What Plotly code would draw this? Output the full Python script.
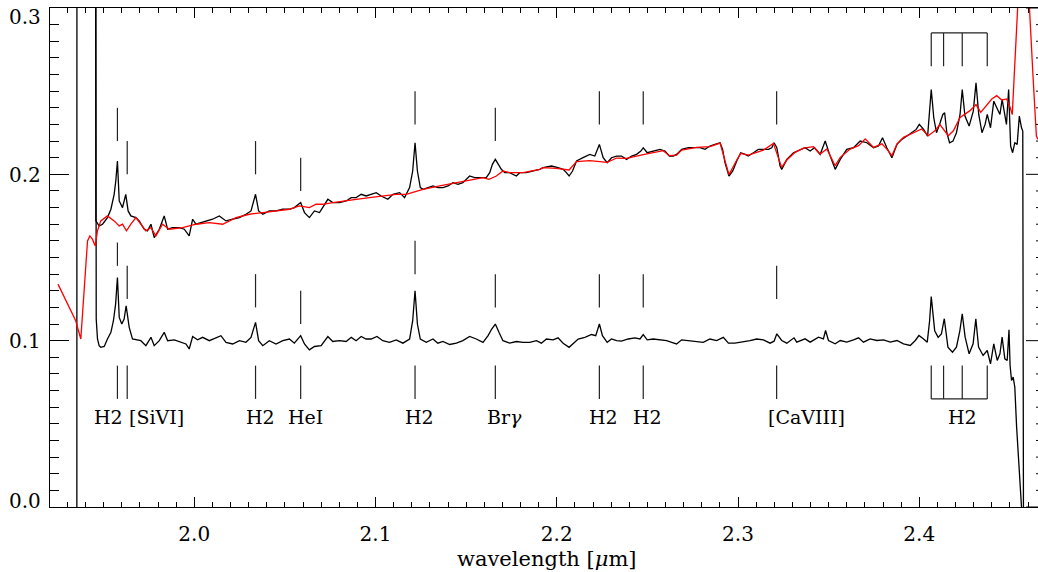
import plotly.graph_objects as go
import numpy as np

# ---------------- data ----------------
wl_obs = [1.9352, 1.9353, 1.9451, 1.9453, 1.9457, 1.9475, 1.9494, 1.9521, 1.9540, 1.9558, 1.9567, 1.9576,
          1.9586, 1.9604, 1.9622, 1.9635, 1.9650, 1.9678, 1.9696, 1.9724, 1.9742, 1.9761, 1.9779, 1.9807,
          1.9834, 1.9853, 1.9880, 1.9917, 1.9945, 1.9972, 1.9991, 2.0009, 2.0037, 2.0064, 2.0101, 2.0138,
          2.0175, 2.0212, 2.0249, 2.0285, 2.0313, 2.0338, 2.0355, 2.0378, 2.0414, 2.0451, 2.0488, 2.0525,
          2.0552, 2.0587, 2.0608, 2.0635, 2.0663, 2.0691, 2.0709, 2.0737, 2.0764, 2.0801, 2.0838, 2.0866,
          2.0893, 2.0921, 2.0948, 2.0976, 2.1004, 2.1031, 2.1068, 2.1096, 2.1133, 2.1160, 2.1188, 2.1205,
          2.1218, 2.1231, 2.1247, 2.1262, 2.1289, 2.1317, 2.1344, 2.1372, 2.1400, 2.1427, 2.1455, 2.1482,
          2.1519, 2.1547, 2.1584, 2.1611, 2.1630, 2.1645, 2.1661, 2.1676, 2.1694, 2.1713, 2.1740, 2.1777,
          2.1796, 2.1832, 2.1869, 2.1906, 2.1924, 2.1971, 2.2007, 2.2035, 2.2053, 2.2068, 2.2087, 2.2109,
          2.2145, 2.2182, 2.2210, 2.2235, 2.2256, 2.2278, 2.2302, 2.2330, 2.2357, 2.2385, 2.2413, 2.2440,
          2.2464, 2.2477, 2.2499, 2.2532, 2.2569, 2.2597, 2.2621, 2.2643, 2.2661, 2.2689, 2.2726, 2.2762,
          2.2790, 2.2818, 2.2845, 2.2873, 2.2901, 2.2915, 2.2928, 2.2950, 2.2971, 2.2993, 2.3015, 2.3039,
          2.3057, 2.3085, 2.3112, 2.3140, 2.3168, 2.3186, 2.3199, 2.3214, 2.3232, 2.3241, 2.3269, 2.3306,
          2.3343, 2.3370, 2.3398, 2.3422, 2.3453, 2.3481, 2.3505, 2.3536, 2.3564, 2.3600, 2.3637, 2.3674,
          2.3711, 2.3748, 2.3775, 2.3797, 2.3821, 2.3849, 2.3877, 2.3904, 2.3932, 2.3960, 2.3983, 2.4000,
          2.4024, 2.4046, 2.4057, 2.4066, 2.4080, 2.4095, 2.4115, 2.4130, 2.4140, 2.4152, 2.4167, 2.4186,
          2.4205, 2.4225, 2.4237, 2.4252, 2.4275, 2.4298, 2.4313, 2.4328, 2.4346, 2.4363, 2.4375, 2.4393,
          2.4411, 2.4426, 2.4445, 2.4457, 2.4472, 2.4481, 2.4493, 2.4504, 2.4515, 2.4527, 2.4540, 2.4552,
          2.4564, 2.4571, 2.4578]
flux_obs = [-0.2, 0.9, 0.9, 0.174, 0.172, 0.169, 0.170, 0.174, 0.179, 0.188, 0.196, 0.208,
            0.184, 0.180, 0.188, 0.178, 0.175, 0.174, 0.172, 0.167, 0.166, 0.170, 0.162, 0.167,
            0.175, 0.167, 0.168, 0.168, 0.167, 0.163, 0.173, 0.170, 0.171, 0.172, 0.173, 0.175,
            0.172, 0.173, 0.174, 0.176, 0.178, 0.188, 0.178, 0.176, 0.178, 0.178, 0.179, 0.179,
            0.180, 0.183, 0.177, 0.174, 0.178, 0.177, 0.180, 0.185, 0.183, 0.183, 0.184, 0.186,
            0.186, 0.188, 0.187, 0.188, 0.189, 0.187, 0.185, 0.188, 0.189, 0.186, 0.192, 0.202,
            0.219, 0.202, 0.192, 0.191, 0.192, 0.193, 0.192, 0.192, 0.193, 0.195, 0.194, 0.195,
            0.199, 0.198, 0.198, 0.198, 0.201, 0.206, 0.209, 0.206, 0.203, 0.201, 0.201, 0.199,
            0.201, 0.201, 0.202, 0.203, 0.204, 0.205, 0.204, 0.203, 0.201, 0.199, 0.202, 0.208,
            0.210, 0.212, 0.211, 0.218, 0.210, 0.207, 0.210, 0.211, 0.211, 0.209, 0.211, 0.212,
            0.214, 0.216, 0.213, 0.214, 0.215, 0.214, 0.211, 0.211, 0.212, 0.215, 0.216, 0.216,
            0.216, 0.215, 0.217, 0.218, 0.219, 0.215, 0.207, 0.199, 0.202, 0.208, 0.213, 0.212,
            0.211, 0.213, 0.215, 0.215, 0.215, 0.216, 0.219, 0.216, 0.205, 0.203, 0.209, 0.213,
            0.215, 0.216, 0.214, 0.216, 0.212, 0.220, 0.212, 0.203, 0.209, 0.215, 0.216, 0.220,
            0.219, 0.216, 0.217, 0.222, 0.216, 0.210, 0.218, 0.221, 0.223, 0.225, 0.227, 0.230,
            0.227, 0.223, 0.236, 0.251, 0.234, 0.225, 0.231, 0.236, 0.237, 0.225, 0.219, 0.220,
            0.225, 0.236, 0.251, 0.235, 0.229, 0.238, 0.255, 0.236, 0.225, 0.230, 0.236, 0.228,
            0.244, 0.240, 0.236, 0.245, 0.235, 0.230, 0.251, 0.217, 0.213, 0.219, 0.218, 0.235,
            0.228, 0.226, -0.2]

wl_model = [1.9248, 1.9346, 1.9374, 1.9392, 1.9411, 1.9424, 1.9438, 1.9453, 1.9466, 1.9484, 1.9521, 1.9558,
            1.9586, 1.9604, 1.9626, 1.9650, 1.9678, 1.9705, 1.9733, 1.9761, 1.9788, 1.9825, 1.9862, 1.9936,
            2.0009, 2.0083, 2.0157, 2.0230, 2.0304, 2.0378, 2.0451, 2.0525, 2.0580, 2.0635, 2.0672, 2.0709,
            2.0764, 2.0820, 2.0893, 2.0967, 2.1040, 2.1114, 2.1169, 2.1262, 2.1354, 2.1446, 2.1538, 2.1593,
            2.1626, 2.1667, 2.1703, 2.1740, 2.1814, 2.1906, 2.1924, 2.1998, 2.2068, 2.2109, 2.2182, 2.2278,
            2.2330, 2.2385, 2.2477, 2.2587, 2.2621, 2.2661, 2.2689, 2.2772, 2.2845, 2.2901, 2.2928, 2.2950,
            2.2993, 2.3015, 2.3057, 2.3140, 2.3195, 2.3223, 2.3241, 2.3269, 2.3315, 2.3361, 2.3416, 2.3453,
            2.3490, 2.3536, 2.3564, 2.3619, 2.3665, 2.3702, 2.3748, 2.3794, 2.3821, 2.3849, 2.3877, 2.3913,
            2.3969, 2.4013, 2.4050, 2.4086, 2.4114, 2.4132, 2.4160, 2.4188, 2.4225, 2.4280, 2.4313, 2.4339,
            2.4372, 2.4400, 2.4427, 2.4455, 2.4482, 2.4500, 2.4513, 2.4527, 2.4540, 2.4556, 2.4575, 2.4594,
            2.4608, 2.4627, 2.4646, 2.4655]
flux_model = [0.134, 0.112, 0.101, 0.128, 0.160, 0.163, 0.161, 0.157, 0.166, 0.172, 0.175, 0.172,
              0.169, 0.170, 0.166, 0.170, 0.174, 0.170, 0.166, 0.168, 0.163, 0.170, 0.167, 0.168,
              0.170, 0.171, 0.170, 0.174, 0.176, 0.177, 0.178, 0.179, 0.181, 0.180, 0.182, 0.182,
              0.183, 0.184, 0.185, 0.186, 0.187, 0.188, 0.188, 0.191, 0.193, 0.195, 0.197, 0.198,
              0.197, 0.199, 0.202, 0.201, 0.201, 0.203, 0.204, 0.2036, 0.2026, 0.2076, 0.2082, 0.2072,
              0.2098, 0.2096, 0.2118, 0.2142, 0.2112, 0.2116, 0.2146, 0.2162, 0.2166, 0.2188, 0.2082, 0.1998,
              0.2086, 0.2126, 0.2116, 0.2146, 0.2186, 0.2102, 0.2042, 0.2086, 0.2132, 0.2158, 0.2166, 0.2122,
              0.2152, 0.2052, 0.2102, 0.2152, 0.2172, 0.2213, 0.2162, 0.2183, 0.2152, 0.2112, 0.2183, 0.2222,
              0.2252, 0.2273, 0.2232, 0.2262, 0.2299, 0.2273, 0.2232, 0.2262, 0.2342, 0.2383, 0.2419, 0.2372,
              0.2413, 0.2453, 0.2473, 0.2447, 0.2453, 0.2407, 0.2359, 0.2643, 0.2943, 0.340, 0.370, 0.350,
              0.300, 0.260, 0.223, 0.221]

wl_res = [1.9451, 1.9455, 1.9459, 1.9466, 1.9475, 1.9484, 1.9503, 1.9521, 1.9540, 1.9554, 1.9566, 1.9576,
          1.9586, 1.9600, 1.9613, 1.9624, 1.9641, 1.9659, 1.9678, 1.9705, 1.9733, 1.9761, 1.9779, 1.9807,
          1.9834, 1.9853, 1.9890, 1.9926, 1.9954, 1.9972, 1.9991, 2.0018, 2.0046, 2.0083, 2.0120, 2.0147,
          2.0175, 2.0212, 2.0249, 2.0285, 2.0313, 2.0338, 2.0355, 2.0378, 2.0414, 2.0451, 2.0488, 2.0525,
          2.0552, 2.0587, 2.0608, 2.0635, 2.0663, 2.0700, 2.0737, 2.0764, 2.0801, 2.0838, 2.0866, 2.0893,
          2.0921, 2.0948, 2.0976, 2.1008, 2.1040, 2.1077, 2.1114, 2.1151, 2.1188, 2.1205, 2.1218, 2.1231,
          2.1247, 2.1280, 2.1317, 2.1344, 2.1372, 2.1409, 2.1446, 2.1482, 2.1519, 2.1556, 2.1593, 2.1621,
          2.1641, 2.1661, 2.1681, 2.1703, 2.1740, 2.1777, 2.1814, 2.1851, 2.1888, 2.1915, 2.1943, 2.1980,
          2.2007, 2.2035, 2.2068, 2.2090, 2.2118, 2.2155, 2.2192, 2.2215, 2.2235, 2.2252, 2.2278, 2.2302,
          2.2330, 2.2357, 2.2394, 2.2431, 2.2459, 2.2477, 2.2499, 2.2532, 2.2569, 2.2606, 2.2634, 2.2661,
          2.2689, 2.2726, 2.2772, 2.2808, 2.2845, 2.2882, 2.2919, 2.2947, 2.2983, 2.3020, 2.3066, 2.3103,
          2.3140, 2.3177, 2.3199, 2.3214, 2.3241, 2.3269, 2.3309, 2.3324, 2.3370, 2.3398, 2.3444, 2.3471,
          2.3483, 2.3499, 2.3536, 2.3564, 2.3600, 2.3637, 2.3665, 2.3692, 2.3729, 2.3766, 2.3803, 2.3840,
          2.3877, 2.3913, 2.3950, 2.3978, 2.3998, 2.4022, 2.4044, 2.4057, 2.4066, 2.4085, 2.4104, 2.4122,
          2.4138, 2.4158, 2.4183, 2.4205, 2.4224, 2.4237, 2.4253, 2.4275, 2.4297, 2.4312, 2.4327, 2.4352,
          2.4375, 2.4393, 2.4411, 2.4430, 2.4445, 2.4457, 2.4472, 2.4485, 2.4495, 2.4501, 2.4509, 2.4518,
          2.4527, 2.4537, 2.4546, 2.4555, 2.4564, 2.4574]
flux_res = [0.9, 0.135, 0.113, 0.101, 0.097, 0.096, 0.0965, 0.101, 0.105, 0.112, 0.122, 0.138,
            0.114, 0.110, 0.113, 0.121, 0.108, 0.101, 0.1005, 0.100, 0.097, 0.102, 0.097, 0.100,
            0.105, 0.100, 0.1005, 0.099, 0.098, 0.095, 0.1025, 0.1005, 0.102, 0.100, 0.102, 0.103,
            0.099, 0.098, 0.100, 0.099, 0.102, 0.111, 0.100, 0.097, 0.100, 0.098, 0.100, 0.101,
            0.0985, 0.103, 0.098, 0.0945, 0.0965, 0.097, 0.1025, 0.0995, 0.100, 0.0995, 0.102, 0.100,
            0.1025, 0.101, 0.101, 0.1025, 0.100, 0.099, 0.1005, 0.0985, 0.101, 0.112, 0.130, 0.110,
            0.101, 0.099, 0.101, 0.0985, 0.0995, 0.0977, 0.0985, 0.100, 0.1025, 0.101, 0.099, 0.103,
            0.107, 0.110, 0.105, 0.100, 0.0985, 0.0995, 0.099, 0.099, 0.100, 0.0985, 0.101, 0.1005,
            0.1017, 0.0985, 0.096, 0.098, 0.101, 0.102, 0.1037, 0.103, 0.110, 0.103, 0.099, 0.101,
            0.100, 0.0997, 0.101, 0.1017, 0.101, 0.1037, 0.1005, 0.101, 0.1005, 0.100, 0.099, 0.098,
            0.1005, 0.100, 0.0997, 0.099, 0.101, 0.100, 0.102, 0.0985, 0.0985, 0.099, 0.100, 0.101,
            0.1005, 0.0985, 0.0997, 0.1041, 0.1001, 0.0985, 0.1017, 0.0991, 0.1011, 0.0991, 0.1021, 0.1011,
            0.1061, 0.1001, 0.0981, 0.1001, 0.0991, 0.1005, 0.1017, 0.0991, 0.1011, 0.1001, 0.1005, 0.0991,
            0.1001, 0.0981, 0.0971, 0.1001, 0.1031, 0.1011, 0.0991, 0.112, 0.1265, 0.106, 0.102, 0.104,
            0.1132, 0.0961, 0.0931, 0.0961, 0.1061, 0.1162, 0.1021, 0.0921, 0.0981, 0.1132, 0.0961, 0.0911,
            0.0941, 0.0861, 0.0981, 0.0881, 0.0921, 0.1021, 0.0891, 0.0881, 0.1065, 0.0851, 0.0761, 0.0781,
            0.0721, 0.0481, 0.0340, 0.0180, 0.0, -0.05]

# line identifications
line_wl = [1.9576, 1.9630, 2.0338, 2.0587, 2.1218, 2.1661, 2.2235, 2.2477, 2.3213]
top_lo = [0.220, 0.200, 0.200, 0.190, 0.230, 0.220, 0.230, 0.230, 0.230]
top_hi = [0.240, 0.220, 0.220, 0.210, 0.250, 0.240, 0.250, 0.250, 0.250]
mid_lo = [0.145, 0.125, 0.120, 0.110, 0.140, 0.120, 0.120, 0.120, 0.125]
mid_hi = [0.159, 0.145, 0.140, 0.130, 0.160, 0.140, 0.140, 0.140, 0.145]
low_lo, low_hi = 0.065, 0.085
group_wl = [2.4066, 2.4134, 2.4237, 2.4375]
group_top = (0.265, 0.285)
group_low = (0.065, 0.085)

label_text = ["H2", "[SiVI]", "H2", "HeI", "H2", "Br<i>γ</i>", "H2", "H2", "[CaVIII]", "H2"]
label_x = [1.9526, 1.9791, 2.0365, 2.0614, 2.1243, 2.1709, 2.2258, 2.2500, 2.3380, 2.4238]
label_y = 0.0544

ytick_vals = [0.0, 0.1, 0.2, 0.3]
ytick_text = ["0.0", "0.1", "0.2", "0.3"]
xtick_vals = [2.0, 2.1, 2.2, 2.3, 2.4]

# ---------------- figure ----------------
FONT = "DejaVu Serif"
fig = go.Figure()

fig.add_trace(go.Scatter(x=wl_obs, y=flux_obs, mode="lines",
                         line=dict(color="black", width=1.3), hoverinfo="skip"))
fig.add_trace(go.Scatter(x=wl_res, y=flux_res, mode="lines",
                         line=dict(color="black", width=1.3), hoverinfo="skip"))
fig.add_trace(go.Scatter(x=wl_model, y=flux_model, mode="lines",
                         line=dict(color="#ff0000", width=1.3), hoverinfo="skip"))

# marker segments
mx, my = [], []
for i, w in enumerate(line_wl):
    for lo, hi in ((top_lo[i], top_hi[i]), (mid_lo[i], mid_hi[i]), (low_lo, low_hi)):
        mx += [w, w, None]
        my += [lo, hi, None]
for w in group_wl:
    mx += [w, w, None, w, w, None]
    my += [group_top[0], group_top[1], None, group_low[0], group_low[1], None]
mx += [group_wl[0], group_wl[-1], None, group_wl[0], group_wl[-1], None]
my += [group_top[1], group_top[1], None, group_low[0], group_low[0], None]
fig.add_trace(go.Scatter(x=mx, y=my, mode="lines",
                         line=dict(color="#222222", width=1.2), hoverinfo="skip"))

annotations = []
for t, x in zip(label_text, label_x):
    annotations.append(dict(x=x, y=label_y, xref="x", yref="y", text=t, showarrow=False,
                            xanchor="center", yanchor="middle",
                            font=dict(family=FONT, size=19, color="black")))
# y tick labels as text
yshifts = [6, 0, -1, -9]
for v, t, s in zip(ytick_vals, ytick_text, yshifts):
    annotations.append(dict(x=0, y=v, xref="paper", yref="y", text=t, showarrow=False,
                            xanchor="right", yanchor="middle", xshift=-7, yshift=s,
                            font=dict(family=FONT, size=20, color="black")))
# axis title
annotations.append(dict(x=0.5035, y=-0.104, xref="paper", yref="paper",
                        text="wavelength [<i>μ</i>m]", showarrow=False,
                        xanchor="center", yanchor="middle",
                        font=dict(family=FONT, size=21, color="black")))

# right-hand tick marks (frame lies just outside the picture)
shapes = []
for k in range(31):
    v = k / 100.0
    length = 12 if k % 10 == 0 else 2
    shapes.append(dict(type="line", xref="paper", yref="y", x0=1 - length / 988.0, x1=1,
                       y0=v, y1=v, line=dict(color="black", width=1)))

fig.update_layout(
    width=1038, height=572,
    margin=dict(l=50, r=0, t=8, b=65),
    paper_bgcolor="white", plot_bgcolor="white",
    showlegend=False,
    annotations=annotations,
    shapes=shapes,
    xaxis=dict(range=[1.9204, 2.4655], showline=True, linecolor="black", linewidth=1,
               mirror="allticks", ticks="inside", ticklen=10, tickwidth=1, tickcolor="black",
               tickvals=xtick_vals, ticktext=[f"{v:.1f}" for v in xtick_vals],
               ticklabelstandoff=9,
               tickfont=dict(family=FONT, size=20, color="black"),
               minor=dict(dtick=0.01, tick0=2.0, ticklen=5, ticks="inside", tickcolor="black",
                          tickwidth=1, showgrid=False),
               showgrid=False, zeroline=False),
    yaxis=dict(range=[0, 0.3], showline=True, linecolor="black", linewidth=1,
               mirror=False, ticks="inside", ticklen=19, tickwidth=1, tickcolor="black",
               tickvals=ytick_vals, showticklabels=False,
               minor=dict(dtick=0.01, tick0=0.0, ticklen=9, ticks="inside", tickcolor="black",
                          tickwidth=1, showgrid=False),
               showgrid=False, zeroline=False),
)

fig.write_html("out.html")
